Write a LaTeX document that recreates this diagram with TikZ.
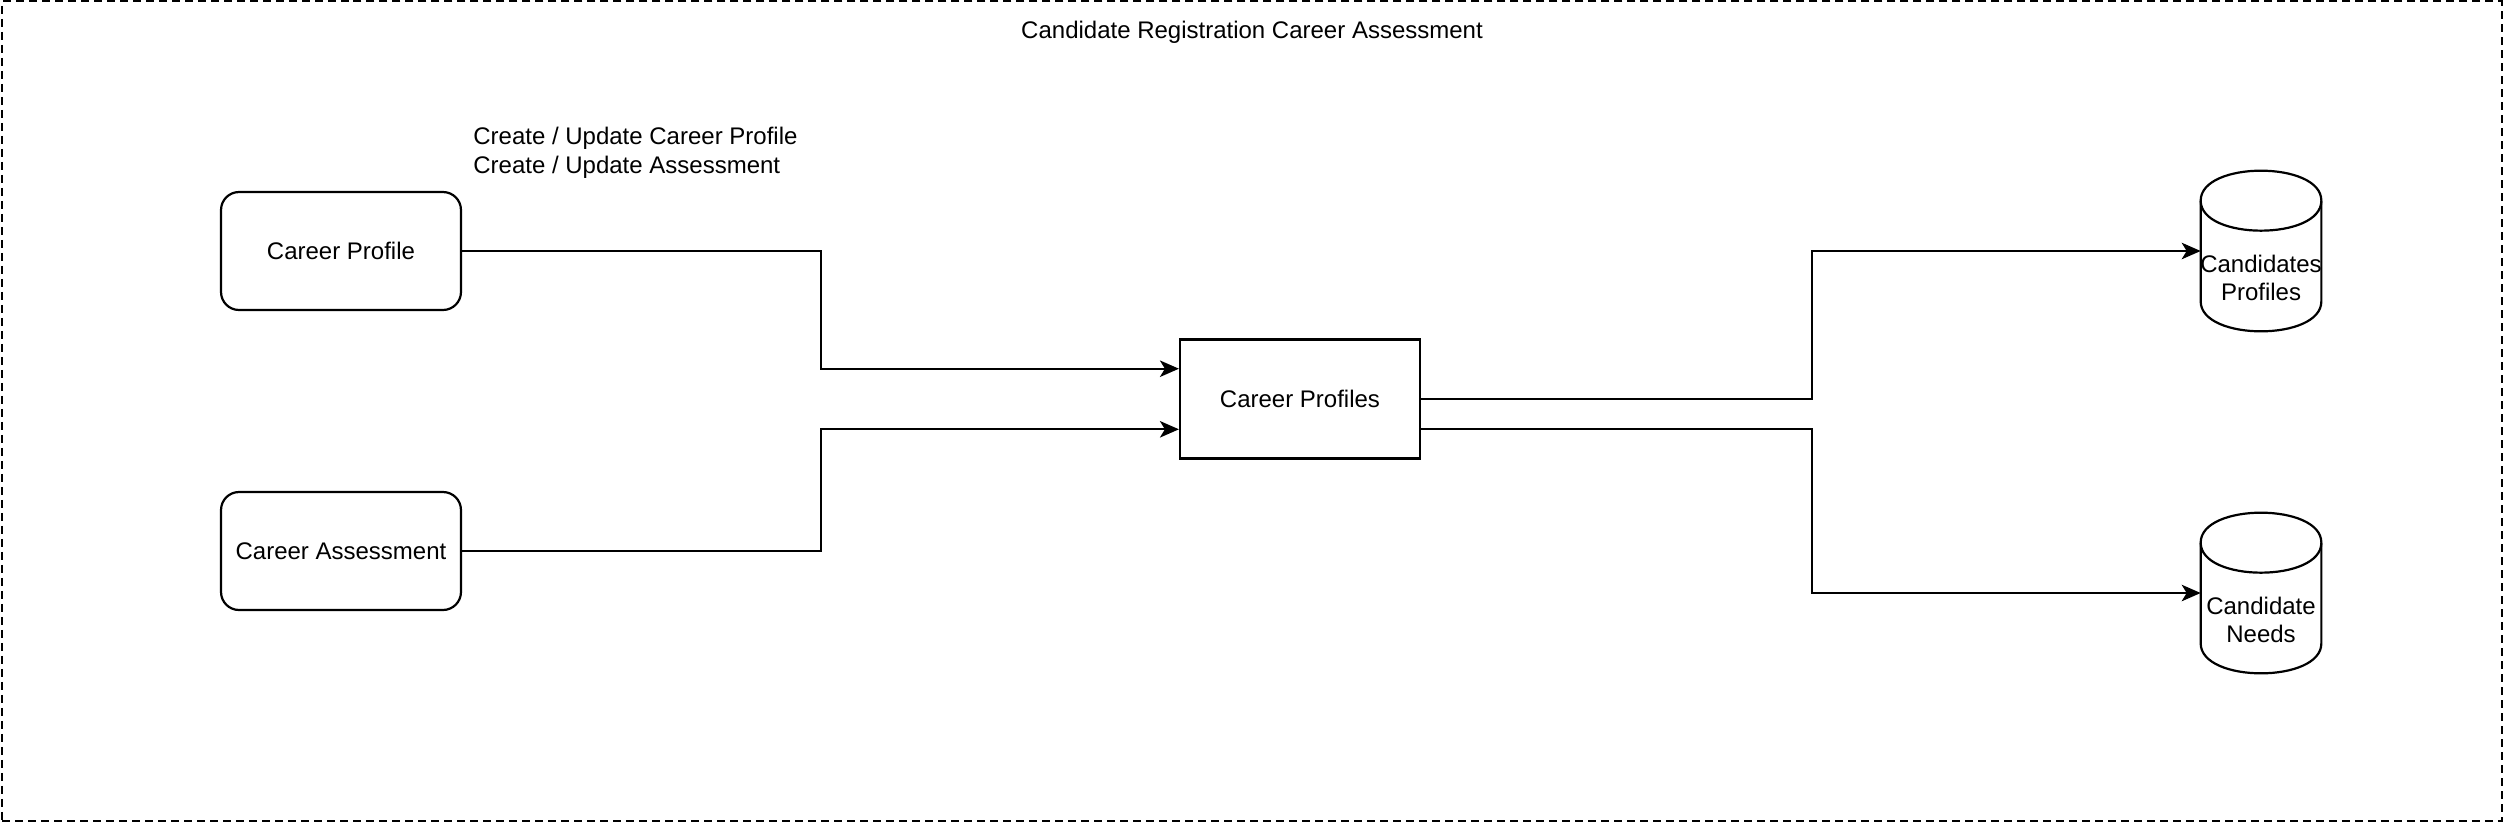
\documentclass[tikz,border=0pt]{standalone}
\usepackage{fontspec}
\setmainfont{Liberation Sans}
\usetikzlibrary{arrows.meta,calc}
\begin{document}
\begin{tikzpicture}[x=0.02cm,y=-0.02cm,
  every node/.style={font=\fontsize{13.66}{16.4}\selectfont},
  lw/.style={line width=0.044cm},
  frame/.style={draw,lw,dash pattern=on 0.16cm off 0.1cm,minimum width=50.04cm-0.044cm,minimum height=16.44cm-0.044cm,inner sep=0},
  rbox/.style={draw,lw,rounded corners=0.36cm,fill=white,minimum width=4.8cm,minimum height=2.36cm,inner sep=0,align=center},
  pbox/.style={draw,lw,fill=white,minimum width=4.8cm,minimum height=2.38cm,inner sep=0,align=center},
  cylbox/.style={minimum width=2.4cm,minimum height=3.2cm,inner sep=0},
  cyl/.style={draw,lw,fill=white},
  txt/.style={inner sep=0,align=center},
  conn/.style={draw,lw,-{Stealth[length=0.38cm,width=0.33cm,inset=0.1cm]}}
]
\useasboundingbox (0,0) rectangle (2504,822);
\node[frame] (frame) at (1252,411) {};
\node[txt] (title) at ([yshift=-0.64cm]frame.north) {Candidate Registration Career Assessment};

\node[rbox] (cp) at (341,251) {Career Profile};
\node[rbox] (ca) at (341,551) {Career Assessment};
\node[pbox] (cps) at (1300,399) {Career Profiles};

\node[txt,anchor=west,align=left] (lbl) at (473,153) {Create / Update Career Profile\\Create / Update Assessment};

% cylinders
\node[cylbox] (db1) at (2261,251) {};
\node[cylbox] (db2) at (2261,593) {};
\foreach \n in {db1,db2}{
  \draw[cyl] ($(\n.north west)+(0,30)$) .. controls ($(\n.north west)+(0,-10)$) and ($(\n.north east)+(0,-10)$) .. ($(\n.north east)+(0,30)$)
    -- ($(\n.south east)+(0,-30)$) .. controls ($(\n.south east)+(0,10)$) and ($(\n.south west)+(0,10)$) .. ($(\n.south west)+(0,-30)$) -- cycle;
  \draw[lw] ($(\n.north west)+(0,30)$) .. controls ($(\n.north west)+(0,70)$) and ($(\n.north east)+(0,70)$) .. ($(\n.north east)+(0,30)$);
}
\node[txt] (db1t) at ($(db1.center)+(0,27)$) {Candidates\\Profiles};
\node[txt] (db2t) at ($(db2.center)+(0,27)$) {Candidate\\Needs};

% connectors
\draw[conn] (cp.east) -- ++(359,0) |- ($(cps.north west)!0.25!(cps.south west)$);
\draw[conn] (ca.east) -- ++(359,0) |- ($(cps.north west)!0.75!(cps.south west)$);
\draw[conn] (cps.east) -- ++(391,0) |- (db1.west);
\draw[conn] ($(cps.north east)!0.75!(cps.south east)$) -- ++(391,0) |- (db2.west);
\end{tikzpicture}
\end{document}
